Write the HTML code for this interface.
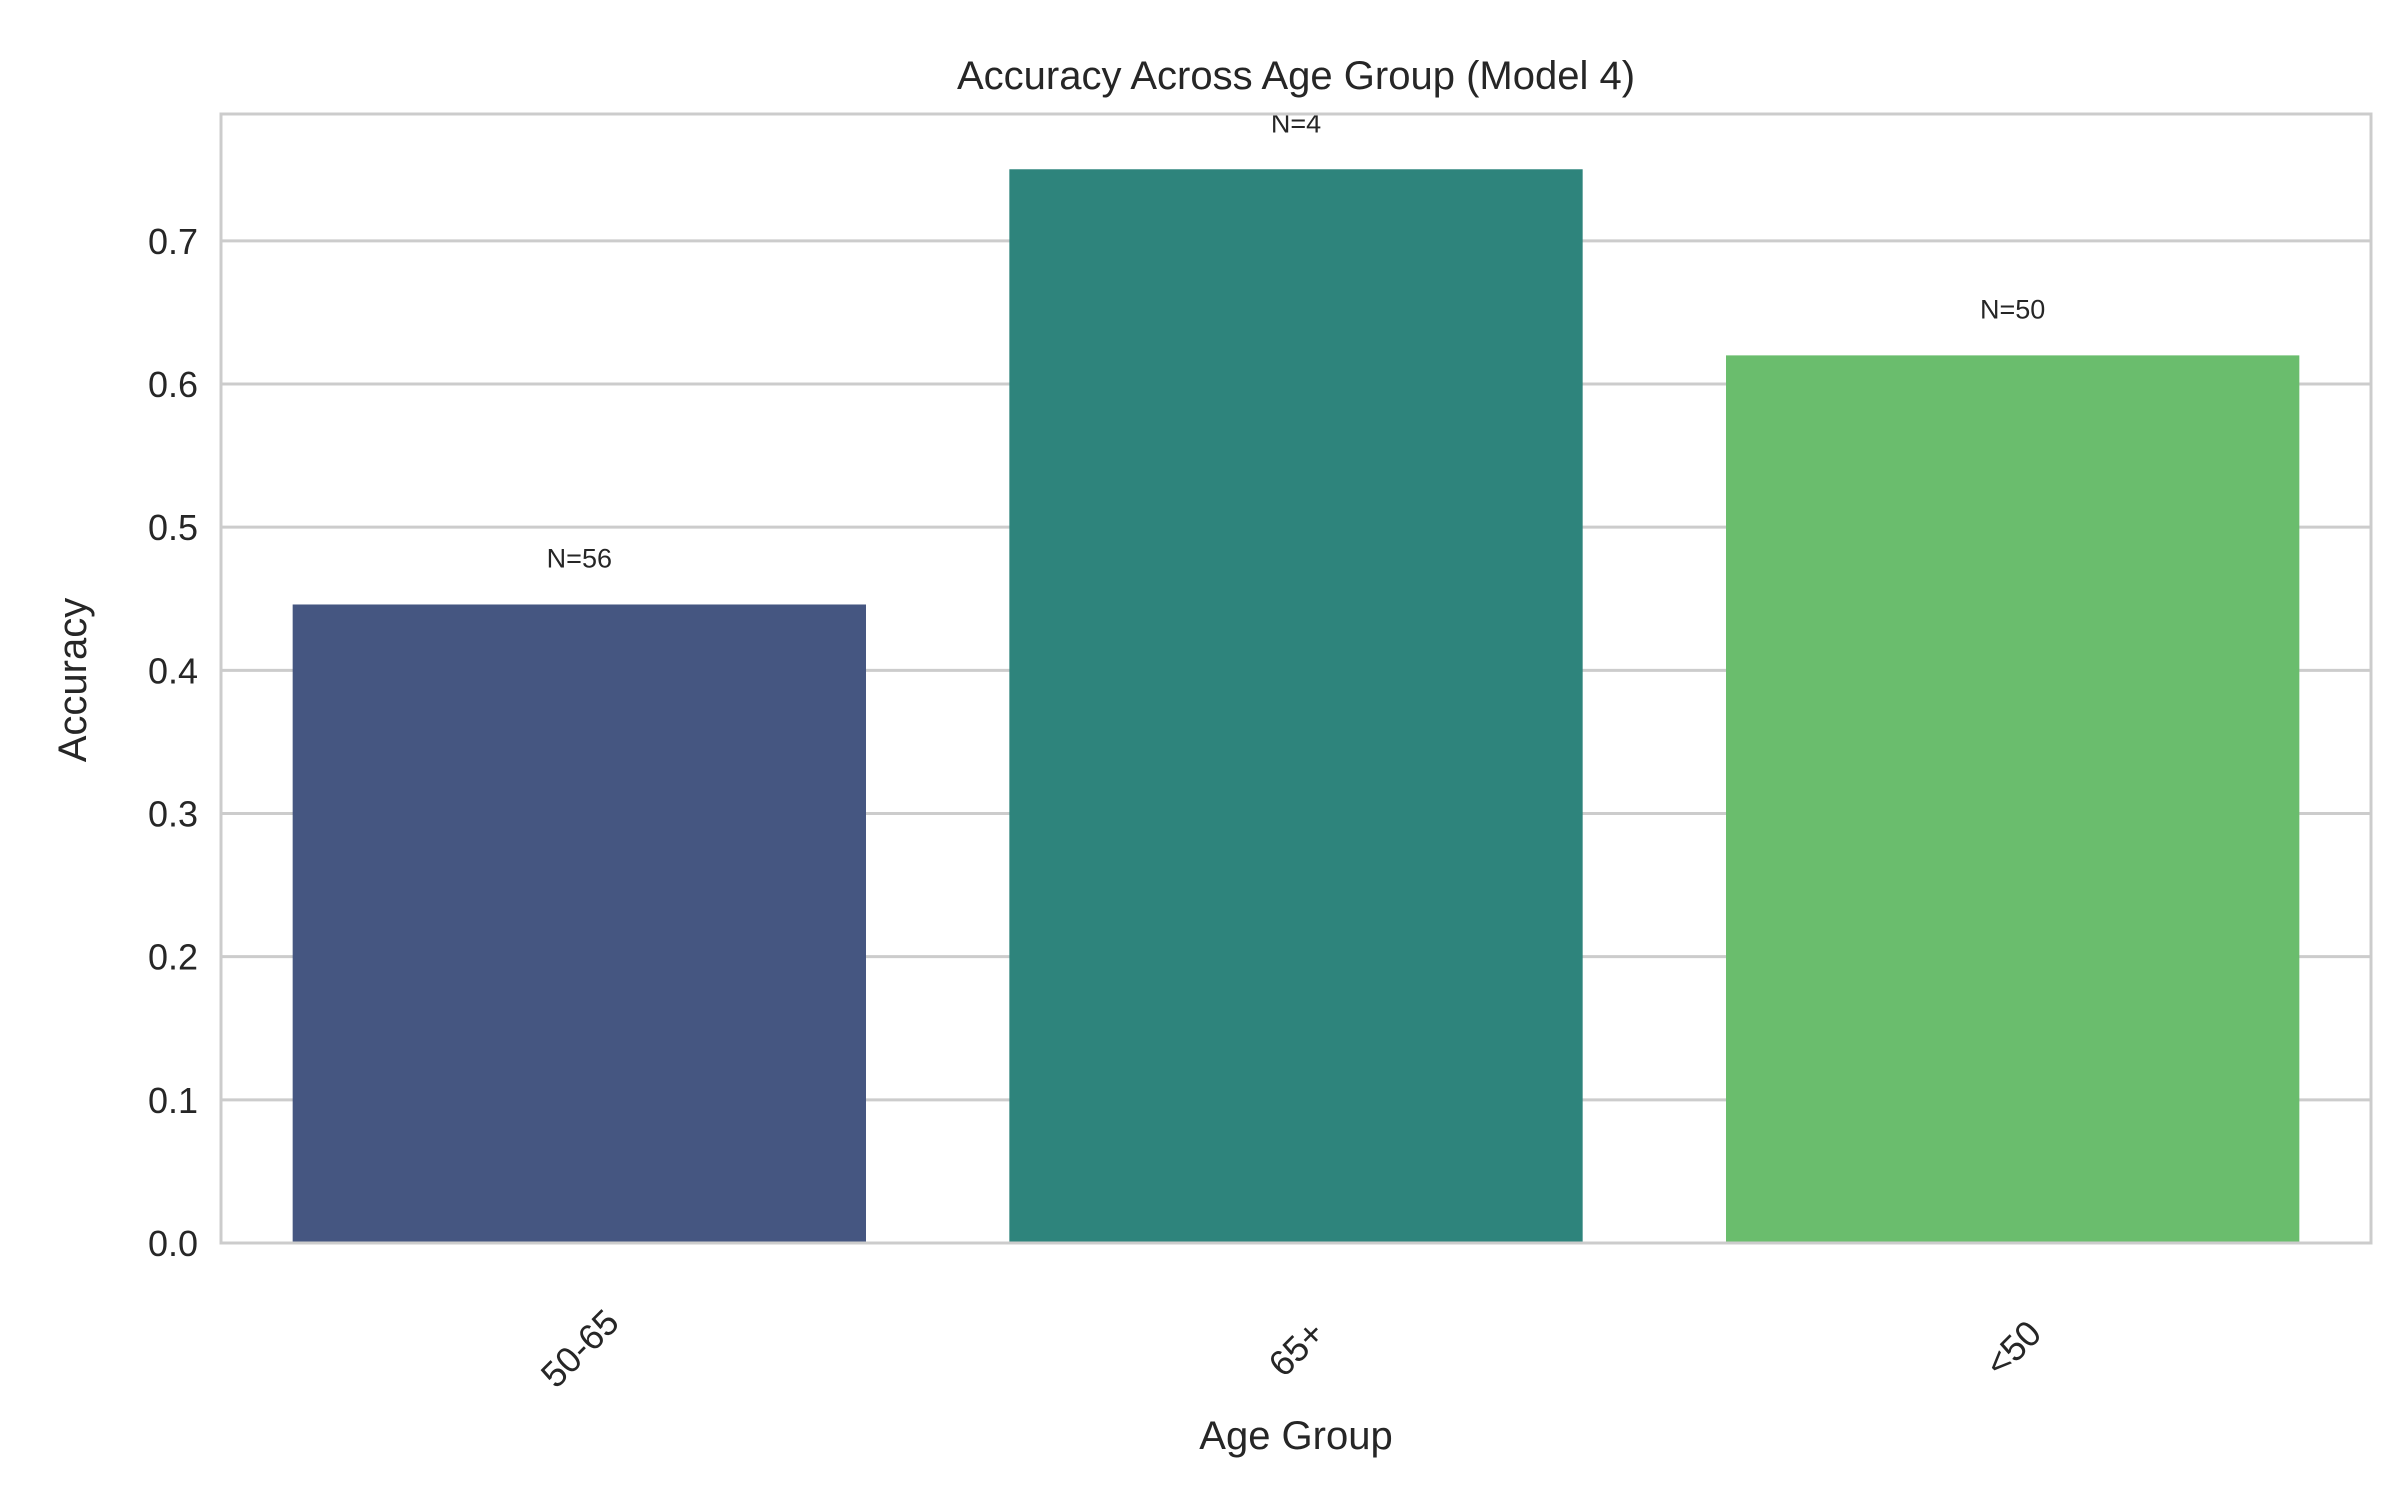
<!DOCTYPE html>
<html><head><meta charset="utf-8"><style>
html,body{margin:0;padding:0;background:#fff;}
svg{display:block;font-family:"Liberation Sans",Arial,sans-serif;}
</style></head><body>
<svg id="chart" width="2400" height="1500" viewBox="0 0 2400 1500">
<rect x="0" y="0" width="2400" height="1500" fill="#fff"/>
<g id="grid"></g>
<g id="bars"></g>
<g id="labels"></g>
<rect x="221" y="114" width="2150" height="1129" fill="none" stroke="#cccccc" stroke-width="3"/>
<g id="yticks"></g>
<g id="xticks"></g>
<text x="1296" y="89" font-size="40" text-anchor="middle" fill="#262626">Accuracy Across Age Group (Model 4)</text>
<text x="1296" y="1449" font-size="40" text-anchor="middle" fill="#262626">Age Group</text>
<text x="0" y="0" font-size="40" text-anchor="middle" fill="#262626" transform="translate(86,680) rotate(-90)">Accuracy</text>
</svg>
<script>
const categories = ["50-65", "65+", "<50"];
const accuracy = [0.446, 0.75, 0.62];
const counts = ["N=56", "N=4", "N=50"];
const yTicks = [0.0, 0.1, 0.2, 0.3, 0.4, 0.5, 0.6, 0.7];
const colors = ["#455681", "#2e847c", "#6abd6d"];

const NS = "http://www.w3.org/2000/svg";
const L = 221, R = 2371, T = 114, B = 1243, yMax = 0.7886;
const y = v => B - (v / yMax) * (B - T);
const band = (R - L) / categories.length;
const xc = i => L + band * (i + 0.5);
function mk(tag, attrs, parent, text) {
  const e = document.createElementNS(NS, tag);
  for (const k in attrs) e.setAttribute(k, attrs[k]);
  if (text !== undefined) e.textContent = text;
  document.getElementById(parent).appendChild(e);
  return e;
}
yTicks.forEach(t => {
  const g = mk("line", {x1: L, x2: R, y1: y(t), y2: y(t), stroke: "#cccccc", "stroke-width": 3}, "grid");
  
  
  const lb = mk("text", {x: 198, y: y(t) + 13, "font-size": 36, "text-anchor": "end", fill: "#262626"}, "yticks", t.toFixed(1));
  
  
});
categories.forEach((c, i) => {
  const w = band * 0.8;
  const b = mk("rect", {x: xc(i) - w / 2, y: y(accuracy[i]), width: w, height: B - y(accuracy[i]), fill: colors[i]}, "bars");
  
  
  const n = mk("text", {x: xc(i), y: y(accuracy[i]) - 37, "font-size": 27, "text-anchor": "middle", fill: "#262626"}, "labels", counts[i]);
  
  
  const t = mk("text", {x: 0, y: 13, "font-size": 36, "text-anchor": "middle", fill: "#262626", transform: "translate(" + xc(i) + ",1348) rotate(-45)"}, "xticks", c);
  
  
});
</script>
</body></html>
